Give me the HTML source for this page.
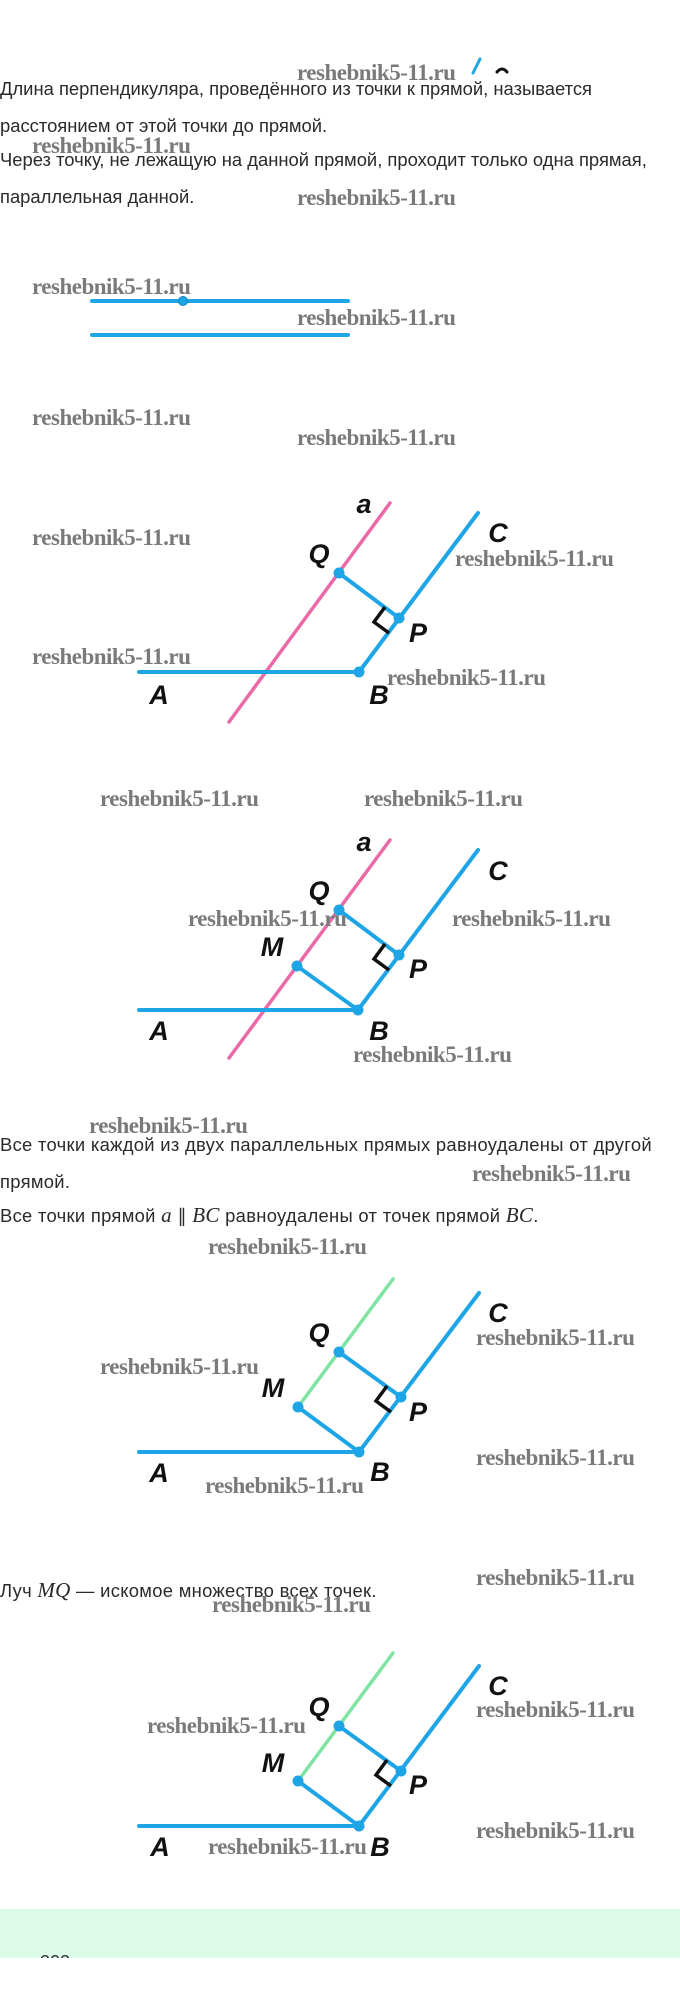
<!DOCTYPE html>
<html><head><meta charset="utf-8"><style>
html,body{margin:0;padding:0;background:#fff}
body{width:680px;height:1991px;position:relative;overflow:hidden;font-family:"Liberation Sans",sans-serif}
.t{position:absolute;left:0;font-size:18.4px;color:#2a2a2a;white-space:nowrap;line-height:20px}
.w{position:absolute;font-family:"Liberation Serif",serif;font-weight:bold;font-size:23px;color:#7a7a7a;white-space:nowrap;line-height:22px;letter-spacing:-0.5px}
.m{font-family:"Liberation Serif",serif;font-style:italic;font-size:21px}
svg{position:absolute;left:0;top:0}
.L{font-family:"Liberation Sans Narrow","Liberation Sans",sans-serif;font-style:italic;font-weight:bold;font-size:27px;fill:#111}
</style></head><body>

<div style="position:absolute;left:0;top:1909px;width:680px;height:49px;background:#dcfce9"></div>

<div class="t" style="top:79px">Длина перпендикуляра, проведённого из точки к прямой, называется</div>
<div class="t" style="top:116px">расстоянием от этой точки до прямой.</div>
<div class="t" style="top:150px">Через точку, не лежащую на данной прямой, проходит только одна прямая,</div>
<div class="t" style="top:187px">параллельная данной.</div>

<div class="t" style="top:1135px;letter-spacing:0.3px">Все точки каждой из двух параллельных прямых равноудалены от другой</div>
<div class="t" style="top:1172px;letter-spacing:0.3px">прямой.</div>
<div class="t" style="top:1205px;letter-spacing:0.3px">Все точки прямой <span class="m">a</span> ∥ <span class="m">BC</span> равноудалены от точек прямой <span class="m">BC</span>.</div>
<div class="t" style="top:1580px;letter-spacing:0.3px">Луч <span class="m">MQ</span> — искомое множество всех точек.</div>

<svg width="680" height="1991" viewBox="0 0 680 1991">
<g stroke-linecap="round" fill="none">
<line x1="473" y1="73" x2="480" y2="59" stroke="#1ea5e6" stroke-width="3"/>
<path d="M497 72 Q502 66 507 72" stroke="#111" stroke-width="3"/>
<line x1="92" y1="301" x2="348" y2="301" stroke="#1ea5e6" stroke-width="4"/>
<line x1="92" y1="335" x2="348" y2="335" stroke="#1ea5e6" stroke-width="4"/>
<line x1="390" y1="503" x2="229" y2="722" stroke="#ea6aa8" stroke-width="3.5"/>
<line x1="139" y1="672" x2="359" y2="672" stroke="#1ea5e6" stroke-width="4"/>
<line x1="359" y1="672" x2="478" y2="513" stroke="#1ea5e6" stroke-width="4"/>
<line x1="339" y1="573" x2="399" y2="618" stroke="#1ea5e6" stroke-width="4"/>
<polyline points="385,607 374,622 389,633" stroke="#111" stroke-width="3.5" stroke-linecap="butt"/>
<line x1="390" y1="840" x2="229" y2="1058" stroke="#ea6aa8" stroke-width="3.5"/>
<line x1="139" y1="1010" x2="358" y2="1010" stroke="#1ea5e6" stroke-width="4"/>
<line x1="358" y1="1010" x2="478" y2="850" stroke="#1ea5e6" stroke-width="4"/>
<line x1="339" y1="910" x2="399" y2="955" stroke="#1ea5e6" stroke-width="4"/>
<line x1="297" y1="966" x2="358" y2="1010" stroke="#1ea5e6" stroke-width="4"/>
<polyline points="385,944 374,959 389,970" stroke="#111" stroke-width="3.5" stroke-linecap="butt"/>
<line x1="393" y1="1279" x2="298" y2="1407" stroke="#7fe3a2" stroke-width="3.5"/>
<line x1="139" y1="1452" x2="359" y2="1452" stroke="#1ea5e6" stroke-width="4"/>
<line x1="359" y1="1452" x2="479" y2="1293" stroke="#1ea5e6" stroke-width="4"/>
<line x1="339" y1="1352" x2="401" y2="1397" stroke="#1ea5e6" stroke-width="4"/>
<line x1="298" y1="1407" x2="359" y2="1452" stroke="#1ea5e6" stroke-width="4"/>
<polyline points="387,1386 376,1401 391,1412" stroke="#111" stroke-width="3.5" stroke-linecap="butt"/>
<line x1="393" y1="1653" x2="298" y2="1781" stroke="#7fe3a2" stroke-width="3.5"/>
<line x1="139" y1="1826" x2="359" y2="1826" stroke="#1ea5e6" stroke-width="4"/>
<line x1="359" y1="1826" x2="479" y2="1666" stroke="#1ea5e6" stroke-width="4"/>
<line x1="339" y1="1726" x2="401" y2="1771" stroke="#1ea5e6" stroke-width="4"/>
<line x1="298" y1="1781" x2="359" y2="1826" stroke="#1ea5e6" stroke-width="4"/>
<polyline points="387,1760 376,1775 391,1786" stroke="#111" stroke-width="3.5" stroke-linecap="butt"/>
</g>
<g fill="#1ea5e6">
<circle cx="183" cy="301" r="4.5" stroke="#0b85c0" stroke-width="1"/>
<circle cx="339" cy="573" r="5.5"/><circle cx="399" cy="618" r="5.5"/><circle cx="359" cy="672" r="5.5"/>
<circle cx="339" cy="910" r="5.5"/><circle cx="399" cy="955" r="5.5"/><circle cx="358" cy="1010" r="5.5"/><circle cx="297" cy="966" r="5.5"/>
<circle cx="339" cy="1352" r="5.5"/><circle cx="401" cy="1397" r="5.5"/><circle cx="359" cy="1452" r="5.5"/><circle cx="298" cy="1407" r="5.5"/>
<circle cx="339" cy="1726" r="5.5"/><circle cx="401" cy="1771" r="5.5"/><circle cx="359" cy="1826" r="5.5"/><circle cx="298" cy="1781" r="5.5"/>
</g>
<g class="L" text-anchor="middle" dominant-baseline="central">
<text x="364" y="504">a</text><text x="498" y="533">C</text><text x="319" y="554">Q</text><text x="418" y="633">P</text><text x="159" y="695">A</text><text x="379" y="695">B</text>
<text x="364" y="842">a</text><text x="498" y="871">C</text><text x="319" y="891">Q</text><text x="272" y="947">M</text><text x="418" y="969">P</text><text x="159" y="1031">A</text><text x="379" y="1031">B</text>
<text x="498" y="1313">C</text><text x="319" y="1333">Q</text><text x="273" y="1388">M</text><text x="418" y="1412">P</text><text x="159" y="1473">A</text><text x="380" y="1472">B</text>
<text x="498" y="1686">C</text><text x="319" y="1707">Q</text><text x="273" y="1763">M</text><text x="418" y="1785">P</text><text x="160" y="1847">A</text><text x="380" y="1847">B</text>
</g>
</svg>

<div class="w" style="left:297px;top:62px">reshebnik5-11.ru</div>
<div class="w" style="left:32px;top:135px">reshebnik5-11.ru</div>
<div class="w" style="left:297px;top:187px">reshebnik5-11.ru</div>
<div class="w" style="left:32px;top:276px">reshebnik5-11.ru</div>
<div class="w" style="left:297px;top:307px">reshebnik5-11.ru</div>
<div class="w" style="left:32px;top:407px">reshebnik5-11.ru</div>
<div class="w" style="left:297px;top:427px">reshebnik5-11.ru</div>
<div class="w" style="left:32px;top:527px">reshebnik5-11.ru</div>
<div class="w" style="left:455px;top:548px">reshebnik5-11.ru</div>
<div class="w" style="left:32px;top:646px">reshebnik5-11.ru</div>
<div class="w" style="left:387px;top:667px">reshebnik5-11.ru</div>
<div class="w" style="left:100px;top:788px">reshebnik5-11.ru</div>
<div class="w" style="left:364px;top:788px">reshebnik5-11.ru</div>
<div class="w" style="left:188px;top:908px">reshebnik5-11.ru</div>
<div class="w" style="left:452px;top:908px">reshebnik5-11.ru</div>
<div class="w" style="left:353px;top:1044px">reshebnik5-11.ru</div>
<div class="w" style="left:89px;top:1115px">reshebnik5-11.ru</div>
<div class="w" style="left:472px;top:1163px">reshebnik5-11.ru</div>
<div class="w" style="left:208px;top:1236px">reshebnik5-11.ru</div>
<div class="w" style="left:476px;top:1327px">reshebnik5-11.ru</div>
<div class="w" style="left:100px;top:1356px">reshebnik5-11.ru</div>
<div class="w" style="left:476px;top:1447px">reshebnik5-11.ru</div>
<div class="w" style="left:205px;top:1475px">reshebnik5-11.ru</div>
<div class="w" style="left:476px;top:1567px">reshebnik5-11.ru</div>
<div class="w" style="left:212px;top:1594px">reshebnik5-11.ru</div>
<div class="w" style="left:476px;top:1699px">reshebnik5-11.ru</div>
<div class="w" style="left:147px;top:1715px">reshebnik5-11.ru</div>
<div class="w" style="left:476px;top:1820px">reshebnik5-11.ru</div>
<div class="w" style="left:208px;top:1836px">reshebnik5-11.ru</div>

<div style="position:absolute;left:40px;top:1954px;width:40px;height:4px;overflow:hidden"><div style="font-size:18px;color:#333;line-height:18px;margin-top:-1px">202</div></div>
</body></html>
